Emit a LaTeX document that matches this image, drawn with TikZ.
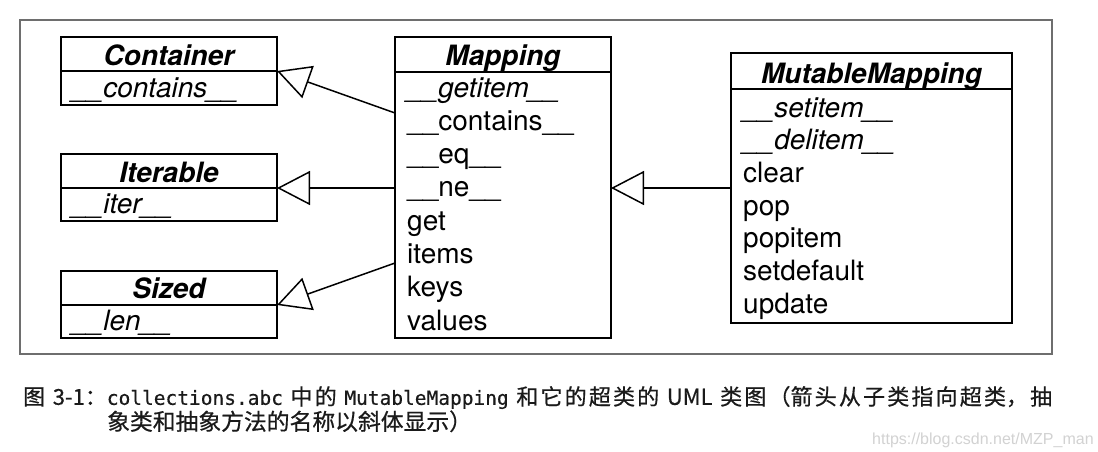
\documentclass[tikz,border=0pt]{standalone}
\usepackage{fontspec}
\setmainfont{TeX Gyre Heros}
\newfontfamily\cjkfont[FakeBold=0.6]{Noto Sans CJK SC}
\newfontfamily\codefont[FakeBold=0.5]{DejaVu Sans Mono}
\newfontfamily\wmfont{Liberation Sans}
\usetikzlibrary{arrows.meta}
\definecolor{framegray}{HTML}{6E6E6E}
\definecolor{wmgray}{HTML}{D2D2D2}
\definecolor{captxt}{HTML}{1A1A1A}
\begin{document}
\begin{tikzpicture}[x=1pt,y=-1pt,
  box/.style={draw, line width=1.6pt, inner sep=0pt, outer sep=0pt, anchor=north west},
  ttl/.style={anchor=base, inner sep=0pt, font=\fontsize{28}{28}\selectfont\bfseries\itshape},
  itm/.style={anchor=base west, inner sep=0pt, font=\fontsize{28}{28}\selectfont},
  itmi/.style={anchor=base west, inner sep=0pt, font=\fontsize{28}{28}\selectfont\itshape},
  inh/.style={line width=1.5pt, -{Triangle[open, length=33pt, width=34pt, fill=white, line width=1.5pt]}}
]
\useasboundingbox[fill=white] (0,0) rectangle (1098,451);
\draw[framegray, line width=1.2pt] (20,20) rectangle (1052,354);

% Container
\node[box, minimum width=216pt, minimum height=34pt] (contT) at (61,37) {};
\node[box, minimum width=216pt, minimum height=34pt] (contB) at (61,71) {};
\node[ttl] (contN) at (169,65) {Container};
\node[itmi] (contA) at (72,97) {\_\_contains\_\_};

% Iterable
\node[box, minimum width=216pt, minimum height=34pt] (iterT) at (61,154) {};
\node[box, minimum width=216pt, minimum height=33pt] (iterB) at (61,188) {};
\node[ttl] (iterN) at (169,182) {Iterable};
\node[itmi] (iterA) at (72,213) {\_\_iter\_\_};

% Sized
\node[box, minimum width=216pt, minimum height=34pt] (sizT) at (61,271) {};
\node[box, minimum width=216pt, minimum height=33pt] (sizB) at (61,305) {};
\node[ttl] (sizN) at (169,298) {Sized};
\node[itmi] (sizA) at (72,330) {\_\_len\_\_};

% Mapping
\node[box, minimum width=216pt, minimum height=35pt] (mapT) at (395,37) {};
\node[box, minimum width=216pt, minimum height=266pt] (mapB) at (395,72) {};
\node[ttl] (mapN) at (503,65) {Mapping};
\node[itmi] (map1) at (407,97) {\_\_getitem\_\_};
\node[itm] (map2) at (407,130.3) {\_\_contains\_\_};
\node[itm] (map3) at (407,163.6) {\_\_eq\_\_};
\node[itm] (map4) at (407,196.9) {\_\_ne\_\_};
\node[itm] (map5) at (407,230.2) {get};
\node[itm] (map6) at (407,263.5) {items};
\node[itm] (map7) at (407,296.8) {keys};
\node[itm] (map8) at (407,330.1) {values};

% MutableMapping
\node[box, minimum width=281pt, minimum height=36pt] (mmT) at (731,53) {};
\node[box, minimum width=281pt, minimum height=234pt] (mmB) at (731,89) {};
\node[ttl] (mmN) at (871.5,83) {MutableMapping};
\node[itmi] (mm1) at (743,117) {\_\_setitem\_\_};
\node[itmi] (mm2) at (743,149.7) {\_\_delitem\_\_};
\node[itm] (mm3) at (743,182.4) {clear};
\node[itm] (mm4) at (743,215.1) {pop};
\node[itm] (mm5) at (743,247.8) {popitem};
\node[itm] (mm6) at (743,280.5) {setdefault};
\node[itm] (mm7) at (743,313.2) {update};

% connectors
\coordinate (s1) at (mapB.west |- 0,113);
\coordinate (s2) at (mapB.west |- 0,188);
\coordinate (s3) at (mapB.west |- 0,263);
\coordinate (s4) at (mmB.west |- 0,188);
\coordinate (t4) at (mapB.east |- 0,188);
\draw[inh] (s1) -- (contB.north east);
\draw[inh] (s2) -- (iterB.north east);
\draw[inh] (s3) -- (sizB.north east);
\draw[inh] (s4) -- (t4);

% caption
\node[anchor=base west, inner sep=0pt, text=captxt] (cap1) at (23,400)
  {\parbox{1029pt}{\cjkfont\fontsize{22}{30}\selectfont
   \XeTeXlinebreaklocale "zh"\XeTeXlinebreakskip=0pt plus 2pt\relax
   \parfillskip=0pt\noindent
   图 3-1：{\codefont\fontsize{19.5}{30}\selectfont collections.abc} 中的 {\codefont\fontsize{19.5}{30}\selectfont MutableMapping} 和它的超类的 UML 类图（箭头从子类指向超类，抽}};
\node[anchor=base west, inner sep=0pt, text=captxt] (cap2) at (107,430)
  {\cjkfont\fontsize{22.8}{30}\selectfont 象类和抽象方法的名称以斜体显示）};
\node[anchor=base west, inner sep=0pt, text=wmgray] (wm) at (872,444)
  {\wmfont\fontsize{16}{16}\selectfont https://blog.csdn.net/MZP\_man};
\end{tikzpicture}
\end{document}
